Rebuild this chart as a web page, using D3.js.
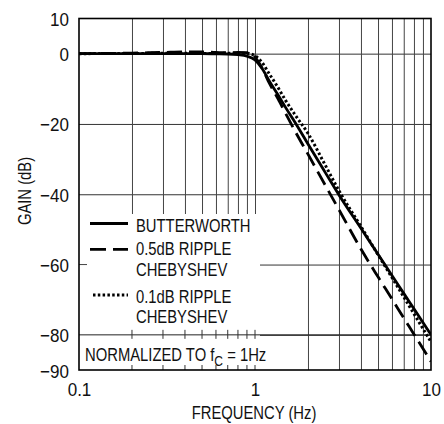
<!DOCTYPE html>
<html>
<head>
<meta charset="utf-8">
<script src="https://cdn.jsdelivr.net/npm/d3@7"></script>
<style>
  body { margin: 0; background: #fff; }
  text { font-family: "Liberation Sans", Arial, sans-serif; fill: #111; }
</style>
</head>
<body>
<svg width="444" height="424"></svg>
<script>
// values
const freq        = [0.1, 0.2, 0.3, 0.4, 0.5, 0.6, 0.7, 0.8, 0.9, 1, 1.1, 1.2, 1.35, 1.5, 1.7, 2, 2.5, 3, 4, 5, 6, 7, 8, 10];
const butterworth = [0, 0, 0, 0, 0, -0.05, -0.1, -0.3, -0.7, -1.8, -4.3, -7.6, -11.7, -15.5, -19.8, -25.7, -33.7, -40.2, -49.7, -57.1, -63.1, -68.2, -72.6, -80];
const cheby05     = [0, 0.15, 0.35, 0.5, 0.5, 0.35, 0.25, 0.35, 0.3, -1.0, -4.2, -8.2, -12.8, -17.2, -22.3, -28.6, -37.3, -44.4, -55.6, -63.5, -69.8, -75.2, -79.8, -87.6];
const cheby01     = [0, 0.05, 0.1, 0.1, 0.05, 0.05, 0.1, 0.1, 0.1, -0.6, -2.6, -5.6, -9.6, -13.5, -17.6, -22.7, -31.6, -39, -49.2, -57.2, -63.7, -69.2, -74, -82];

const yTickVals = [10, 0, -20, -40, -60, -80, -90];
const xTickVals = [0.1, 1, 10];
const yGridVals = [0, -20, -40, -60, -80];
const xGridVals = [0.2, 0.3, 0.4, 0.5, 0.6, 0.7, 0.8, 0.9, 1, 2, 3, 4, 5, 6, 7, 8, 9];
const boxTickVals = [0.2, 0.3, 0.4, 0.5, 0.6, 0.7, 0.8, 0.9, 1];

const legendLabels = [["BUTTERWORTH"], ["0.5dB RIPPLE", "CHEBYSHEV"], ["0.1dB RIPPLE", "CHEBYSHEV"]];

var margin = {top: 18.5, right: 13, bottom: 54, left: 79},
    width = 444 - margin.left - margin.right,
    height = 424 - margin.top - margin.bottom;

const svg = d3.select('svg');
const g = svg.append('g')
    .attr('transform', `translate(${margin.left},${margin.top})`);

const xScale = d3.scaleLog().domain([0.1, 10]).range([0, width]);
const yScale = d3.scaleLinear().domain([-90, 10]).range([height, 0]);

// grid
const yGrid = g.append('g')
    .call(d3.axisLeft(yScale).tickValues(yGridVals).tickSize(-width).tickFormat(''));
yGrid.select('.domain').remove();
yGrid.selectAll('line').attr('stroke', '#333');

const xGrid = g.append('g')
    .attr('transform', `translate(0,${height})`)
    .call(d3.axisBottom(xScale).tickValues(xGridVals).tickSize(-height).tickFormat(''));
xGrid.select('.domain').remove();
xGrid.selectAll('line').attr('stroke', '#444');

// white legend box covering the grid
const boxRight = xScale(1) + 5;
const boxTop = 214 - margin.top;
g.append('rect')
    .attr('x', 0).attr('y', boxTop)
    .attr('width', boxRight).attr('height', height - boxTop)
    .attr('fill', '#fff');

g.append('line')
    .attr('x1', 0).attr('x2', width)
    .attr('y1', yScale(-80)).attr('y2', yScale(-80))
    .attr('stroke', '#222');

g.append('line')
    .attr('x1', 0).attr('x2', 8)
    .attr('y1', yScale(-60)).attr('y2', yScale(-60))
    .attr('stroke', '#444');

g.selectAll('.crossTick').data(boxTickVals).enter().append('line')
    .attr('x1', d => xScale(d)).attr('x2', d => xScale(d))
    .attr('y1', yScale(-80) - 5).attr('y2', yScale(-80) + 4)
    .attr('stroke', '#333');

g.selectAll('.botTick').data(boxTickVals).enter().append('line')
    .attr('x1', d => xScale(d)).attr('x2', d => xScale(d))
    .attr('y1', height - 5).attr('y2', height)
    .attr('stroke', '#333');

// frame
g.append('rect')
    .attr('width', width).attr('height', height)
    .attr('fill', 'none')
    .attr('stroke', '#000')
    .attr('stroke-width', 1.6);

// curves
const line = (vals) => d3.line()
    .x((d, i) => xScale(freq[i]))
    .y(d => yScale(d))
    .curve(d3.curveMonotoneX)(vals);

const series = [
    {vals: butterworth, dash: null, w: 2.8},
    {vals: cheby05, dash: '15,7', w: 2.8},
    {vals: cheby01, dash: '2.5,2.3', w: 3}
];

svg.append('clipPath').attr('id', 'clip')
    .append('rect').attr('width', width).attr('height', height);

g.append('g').attr('clip-path', 'url(#clip)')
    .selectAll('path').data(series).enter().append('path')
    .attr('d', d => line(d.vals))
    .attr('fill', 'none')
    .attr('stroke', '#000')
    .attr('stroke-width', d => d.w)
    .attr('stroke-dasharray', d => d.dash);

// axes labels
const yAxisG = g.append('g')
    .call(d3.axisLeft(yScale).tickValues(yTickVals).tickSize(0).tickPadding(11));
yAxisG.select('.domain').remove();
yAxisG.selectAll('text')
    .style('font-size', '18.5px')
    .attr('dy', '0.38em')
    .attr('transform', 'scale(0.92,1)');

const xAxisG = g.append('g')
    .attr('transform', `translate(0,${height})`)
    .call(d3.axisBottom(xScale).tickValues(xTickVals).tickSize(0).tickPadding(13).tickFormat(d => d));
xAxisG.select('.domain').remove();
xAxisG.selectAll('text')
    .style('font-size', '18.5px')
    .attr('transform', 'scale(0.92,1)');

svg.append('text')
    .attr('transform', 'translate(30.5,191) rotate(-90) scale(0.8,1)')
    .attr('text-anchor', 'middle')
    .style('font-size', '18.5px')
    .text('GAIN (dB)');

svg.append('text')
    .attr('transform', 'translate(254,419) scale(0.8,1)')
    .attr('text-anchor', 'middle')
    .style('font-size', '18.5px')
    .text('FREQUENCY (Hz)');

// legend
const legendY = [223.5, 249.3, 295];
const lineY = [[232], [254.5, 276], [302.5, 322.5]];
series.forEach((s, i) => {
    svg.append('line')
        .attr('x1', i === 2 ? 93 : 90).attr('x2', 128)
        .attr('y1', legendY[i]).attr('y2', legendY[i])
        .attr('stroke', '#000')
        .attr('stroke-width', s.w)
        .attr('stroke-dasharray', i === 1 ? '16,7' : s.dash);
    legendLabels[i].forEach((t, j) => {
        svg.append('text')
            .attr('transform', `translate(136,${lineY[i][j]}) scale(0.8,1)`)
            .style('font-size', '18.5px')
            .text(t);
    });
});

const note = svg.append('text')
    .attr('transform', 'translate(85,361) scale(0.8,1)')
    .style('font-size', '18.5px');
note.append('tspan').text('NORMALIZED TO f');
note.append('tspan').attr('dy', 5).style('font-size', '15px').text('C');
note.append('tspan').attr('dy', -5).text(' = 1Hz');
</script>
</body>
</html>
